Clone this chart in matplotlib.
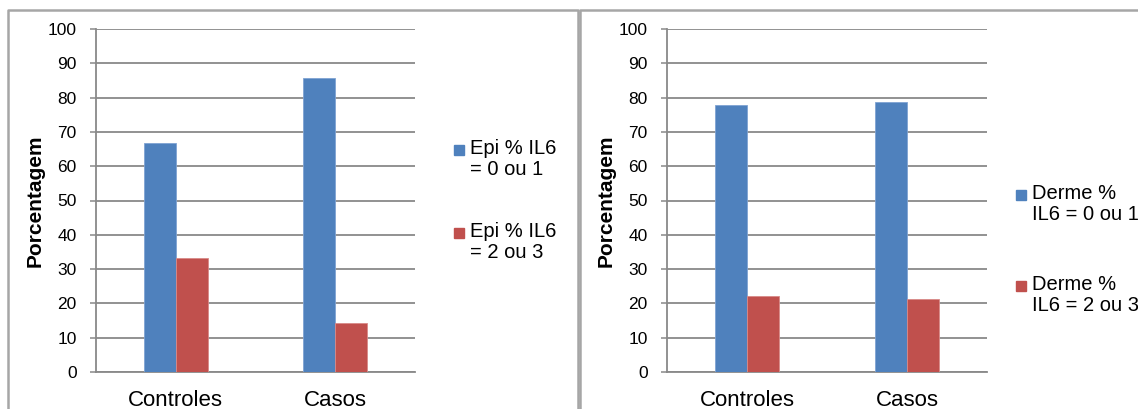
import matplotlib
matplotlib.use("Agg")
import matplotlib.pyplot as plt
from matplotlib.patches import Rectangle
from matplotlib.lines import Line2D
import numpy as np

plt.rcParams['font.family'] = ['Liberation Sans', 'DejaVu Sans']

categories = ["Controles", "Casos"]
epi_low = [66.7, 85.7]
epi_high = [33.3, 14.3]
derme_low = [77.8, 78.6]
derme_high = [22.2, 21.4]
epi_labels = ["Epi % IL6\n= 0 ou 1", "Epi % IL6\n= 2 ou 3"]
derme_labels = ["Derme %\nIL6 = 0 ou 1", "Derme %\nIL6 = 2 ou 3"]
yticks = [0, 10, 20, 30, 40, 50, 60, 70, 80, 90, 100]
ylabel = "Porcentagem"

BLUE = "#4F81BD"
RED = "#C0504D"
GRID = "#898989"
W, H = 1138, 409

fig = plt.figure(figsize=(W / 100, H / 100), dpi=100)


def fx(px):
    return px / W


def fy(py):
    return 1 - py / H


def panel(left_px, right_px, low, high, labels, leg_x, leg_y):
    ax = fig.add_axes([fx(left_px), fy(372), fx(right_px - left_px), (372 - 29) / H])
    x = np.arange(len(categories))
    bw = 0.2
    ax.bar(x - bw / 2, low, bw, color=BLUE, edgecolor="#7FA3D3", linewidth=0.6, zorder=3)
    ax.bar(x + bw / 2, high, bw, color=RED, edgecolor="#D98A88", linewidth=0.6, zorder=3)
    ax.set_xlim(-0.5, len(categories) - 0.5)
    ax.set_ylim(0, 100)
    ax.set_yticks(yticks)
    ax.set_xticks(x)
    ax.set_xticklabels(categories, fontsize=16)
    ax.tick_params(axis='x', length=0, pad=13)
    ax.tick_params(axis='y', length=4.3, width=1.1, color=GRID, pad=9.5, labelsize=12.5)
    ax.grid(axis='y', color=GRID, linewidth=1.3, zorder=0)
    for s in ["top", "right"]:
        ax.spines[s].set_visible(False)
    for s in ["left", "bottom"]:
        ax.spines[s].set_color(GRID)
        ax.spines[s].set_linewidth(1.3)
    ax.set_ylabel(ylabel, fontsize=15, fontweight='bold', va='center')
    ax.yaxis.set_label_coords(-61 / (right_px - left_px), 0.5)
    # legend
    colors = [BLUE, RED]
    for i, (lab, c) in enumerate(zip(labels, colors)):
        y0 = leg_y[i]
        fig.patches.append(Rectangle((fx(leg_x), fy(y0 + 5)), fx(10), 10 / H,
                                     transform=fig.transFigure, color=c, zorder=5))
        fig.text(fx(leg_x + 16), fy(y0 - 11), lab, fontsize=14.5, va='top', ha='left',
                 linespacing=1.15)
    return ax


panel(96, 415, epi_low, epi_high, epi_labels, 454, [150, 233])
panel(667, 987, derme_low, derme_high, derme_labels, 1016, [195, 286])

# panel borders
bc = "#A6A6A6"
for (x0, x1) in [(8, 578), (580, 1150)]:
    fig.lines.append(Line2D([fx(x0), fx(x0), fx(x1), fx(x1)], [fy(420), fy(10), fy(10), fy(420)],
                            transform=fig.transFigure, color=bc, linewidth=1.8))

fig.savefig("out.png", dpi=100)
